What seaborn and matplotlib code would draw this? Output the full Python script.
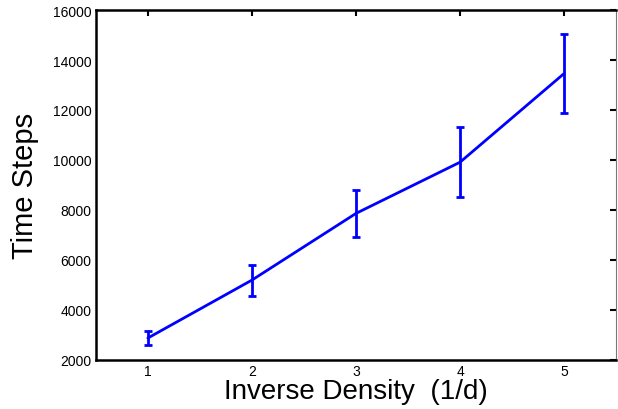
import numpy as np
import pandas as pd
import seaborn as sns
import matplotlib
matplotlib.use('Agg')
import matplotlib.pyplot as plt

# values
inv_density = [1, 2, 3, 4, 5]
time_steps = [2870, 5190, 7860, 9910, 13460]
err = [270, 620, 935, 1400, 1580]

df = pd.DataFrame({'inv_density': inv_density, 'time_steps': time_steps, 'err': err})

sns.set_style('white')
plt.rcParams['font.family'] = ['Liberation Sans', 'DejaVu Sans']
plt.rcParams['text.color'] = 'black'
plt.rcParams['axes.labelcolor'] = 'black'

fig = plt.figure(figsize=(6.18, 4.10), dpi=100)
ax = fig.add_axes([0.155, 0.12, 0.842, 0.853])

sns.lineplot(data=df, x='inv_density', y='time_steps', color='#0000ff', linewidth=2, ax=ax)
ax.errorbar(df['inv_density'], df['time_steps'], yerr=df['err'], fmt='none',
            ecolor='#0000ff', elinewidth=2, capsize=3.2, capthick=2)

ax.set_xlim(0.5, 5.5)
ax.set_ylim(2000, 16000)
ax.set_xticks(inv_density)
ax.set_yticks(np.arange(2000, 16001, 2000))
ax.set_xticklabels([str(v) for v in inv_density])
ax.set_yticklabels([str(v) for v in range(2000, 16001, 2000)])

ax.tick_params(direction='in', length=4, width=1.5, top=True, right=True,
               labelsize=10, colors='black', pad=3)
for s in ax.spines.values():
    s.set_linewidth(1.8)
    s.set_color('black')
ax.spines['right'].set_linewidth(0.8)
ax.spines['right'].set_color('#777777')

ax.set_xlabel('Inverse Density  (1/d)', fontsize=20, labelpad=0)
ax.set_ylabel('Time Steps', fontsize=21, labelpad=10)

fig.savefig('out.png', dpi=100)
